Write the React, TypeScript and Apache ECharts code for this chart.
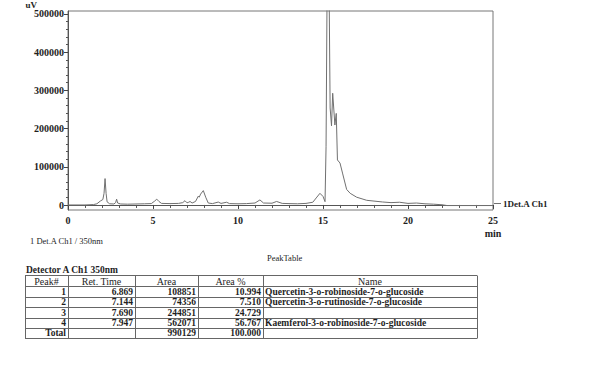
import React, { useEffect, useRef } from "react";
import * as echarts from "echarts";

// Chromatogram trace (retention time in min, signal in uV)
const times = [
  0, 1.0, 1.5, 1.7, 1.9, 2.05, 2.12, 2.18, 2.24, 2.3, 2.45, 2.7, 2.8, 2.86, 2.92, 3.1, 3.5, 4.0, 4.5, 4.9,
  5.1, 5.22, 5.35, 5.5, 6.0, 6.5, 6.75, 6.88, 7.0, 7.1, 7.18, 7.3, 7.5, 7.67, 7.72, 7.8, 7.96, 8.1, 8.25, 8.5,
  8.84, 9.0, 9.33, 9.5, 10.0, 10.5, 11.0, 11.29, 11.5, 12.0, 12.27, 12.6, 13.0, 13.5, 14.0, 14.4, 14.6, 14.82,
  15.0, 15.12, 15.18, 15.25, 15.35, 15.42, 15.5, 15.57, 15.7, 15.78, 15.85, 16.0, 16.16, 16.39, 16.6, 16.98,
  17.57, 18.5, 19.0, 19.5, 20.0, 20.5, 21.0, 21.5, 22.0, 22.3, 25.0,
];
const signal = [
  0, 0, 1000, 3000, 10000, 14000, 30000, 68000, 30000, 8000, 3000, 2500, 6000, 15000, 5000, 2500, 2000, 2500, 3000, 3500,
  10000, 15000, 9000, 4000, 3500, 4000, 6000, 11000, 5500, 7000, 9000, 5000, 9000, 23000, 20000, 28000, 37000, 20000, 5000, 3500,
  7500, 4000, 7000, 3500, 3000, 3500, 5000, 13000, 5000, 4500, 9000, 4000, 3500, 3000, 4000, 7000, 18000, 30000,
  22000, 8500, 150000, 620000, 600000, 250000, 204000, 288000, 206000, 236000, 116000, 108000, 80000, 40000, 30000, 20000,
  12000, 7700, 6000, 7000, 4000, 5000, 3000, 2000, 500, -1500, -1500,
];

const seriesName = "1Det.A Ch1";
const yLabelTicks = [0, 100000, 200000, 300000, 400000, 500000];

// Peak table
const tableHeaders = ["Peak#", "Ret. Time", "Area", "Area %", "Name"];
const peakNo = ["1", "2", "3", "4"];
const retTime = ["6.869", "7.144", "7.690", "7.947"];
const area = ["108851", "74356", "244851", "562071"];
const areaPct = ["10.994", "7.510", "24.729", "56.767"];
const peakName = [
  "Quercetin-3-o-robinoside-7-o-glucoside",
  "Quercetin-3-o-rutinoside-7-o-glucoside",
  "",
  "Kaemferol-3-o-robinoside-7-o-glucoside",
];
const totalRow = ["Total", "", "990129", "100.000", ""];

const FONT = "Liberation Serif";
const TEXT = "#1e1e1e";
const LINE = "#666";

function buildTable() {
  const colX = [25, 68, 135, 198, 263, 477];
  const rowY = [275, 286, 296.5, 307, 317.5, 327.5, 337.5];
  const els: any[] = [];
  rowY.forEach((y) => {
    els.push({
      type: "line",
      shape: { x1: colX[0], y1: Math.round(y) + 0.5, x2: colX[5], y2: Math.round(y) + 0.5 },
      style: { stroke: LINE, lineWidth: 1 },
    });
  });
  colX.forEach((x) => {
    els.push({
      type: "line",
      shape: { x1: x + 0.5, y1: Math.round(rowY[0]) + 0.5, x2: x + 0.5, y2: Math.round(rowY[6]) + 0.5 },
      style: { stroke: LINE, lineWidth: 1 },
    });
  });
  tableHeaders.forEach((h, i) => {
    els.push({
      type: "text",
      x: (colX[i] + colX[i + 1]) / 2,
      y: (rowY[0] + rowY[1]) / 2 + 0.5,
      style: { text: h, fontSize: 10, fontFamily: FONT, fill: TEXT, align: "center", verticalAlign: "middle" },
    });
  });
  const rows: string[][] = peakNo.map((p, r) => [p, retTime[r], area[r], areaPct[r], peakName[r]]);
  rows.push(totalRow);
  rows.forEach((row, r) => {
    const cy = (rowY[r + 1] + rowY[r + 2]) / 2 + 0.5;
    row.forEach((val, c) => {
      if (!val) return;
      const isName = c === 4;
      els.push({
        type: "text",
        x: isName ? colX[4] + 2 : colX[c + 1] - 2,
        y: cy,
        style: {
          text: val,
          fontSize: 9.5,
          fontWeight: "bold",
          fontFamily: FONT,
          fill: TEXT,
          align: isName ? "left" : "right",
          verticalAlign: "middle",
        },
      });
    });
  });
  return els;
}

export default function App() {
  const ref = useRef<HTMLDivElement>(null);
  useEffect(() => {
    if (!ref.current) return;
    const chart = echarts.init(ref.current, undefined, { renderer: "svg" });
    const data = times.map((t, i) => [t, signal[i]]);
    const labelStyle = { fontFamily: FONT, fontSize: 10, fontWeight: "bold" as const, color: TEXT };
    chart.setOption({
      animation: false,
      backgroundColor: "#fff",
      grid: [
        { left: 68, top: 11, width: 425, height: 199, show: true, borderColor: "#777", borderWidth: 1, backgroundColor: "transparent" },
        { left: 68, top: 11, width: 425, height: 194 },
      ],
      legend: {
        data: [seriesName],
        left: 494,
        top: 199,
        icon: "rect",
        itemWidth: 7,
        itemHeight: 1,
        selectedMode: false,
        padding: 0,
        textStyle: { fontFamily: FONT, fontSize: 9, fontWeight: "bold", color: TEXT, padding: [0, 0, 0, -3] },
      },
      xAxis: [
        {
          type: "value",
          gridIndex: 0,
          min: 0,
          max: 25,
          interval: 5,
          axisLine: { show: true, lineStyle: { color: "#555" } },
          axisTick: { show: true, length: 4, lineStyle: { color: "#444" } },
          minorTick: { show: true, splitNumber: 5, length: 3, lineStyle: { color: "#555" } },
          axisLabel: { ...labelStyle, margin: 5 },
          splitLine: { show: false },
        },
        { type: "value", gridIndex: 1, min: 0, max: 25, show: false },
      ],
      yAxis: [
        {
          type: "value",
          gridIndex: 0,
          min: -13000,
          max: 500000,
          axisLine: { show: true, lineStyle: { color: "#555" } },
          axisTick: { show: false },
          axisLabel: { show: false },
          splitLine: { show: false },
        },
        {
          type: "value",
          gridIndex: 1,
          min: yLabelTicks[0],
          max: yLabelTicks[yLabelTicks.length - 1],
          interval: yLabelTicks[1] - yLabelTicks[0],
          name: "uV",
          nameLocation: "end",
          nameGap: 0,
          nameTextStyle: { ...labelStyle, fontSize: 9, align: "right", verticalAlign: "middle", padding: [0, 31, 9, 0] },
          axisLine: { show: false },
          axisTick: { show: true, length: 4, lineStyle: { color: "#444" } },
          minorTick: { show: true, splitNumber: 5, length: 2, lineStyle: { color: "#555" } },
          axisLabel: { ...labelStyle, margin: 4, formatter: (v: number) => String(v) },
          splitLine: { show: false },
        },
      ],
      series: [
        {
          name: seriesName,
          type: "line",
          xAxisIndex: 0,
          yAxisIndex: 0,
          data,
          showSymbol: false,
          symbol: "none",
          clip: true,
          lineStyle: { color: "#707070", width: 1 },
          itemStyle: { color: "#707070" },
        },
      ],
      graphic: [
        {
          type: "text",
          x: 493,
          y: 228,
          style: { text: "min", fontSize: 10, fontWeight: "bold", fontFamily: FONT, fill: TEXT, align: "center", verticalAlign: "top" },
        },
        {
          type: "text",
          x: 30,
          y: 241,
          style: { text: "1 Det.A Ch1 / 350nm", fontSize: 8.5, fontFamily: FONT, fill: TEXT, verticalAlign: "middle" },
        },
        {
          type: "text",
          x: 267,
          y: 258,
          style: { text: "PeakTable", fontSize: 8.5, fontFamily: FONT, fill: TEXT, verticalAlign: "middle" },
        },
        {
          type: "text",
          x: 26,
          y: 269.5,
          style: { text: "Detector A Ch1 350nm", fontSize: 9.5, fontWeight: "bold", fontFamily: FONT, fill: TEXT, verticalAlign: "middle" },
        },
        ...buildTable(),
      ],
    });
    return () => chart.dispose();
  }, []);
  return <div ref={ref} style={{ position: "fixed", left: 0, top: 0, width: 600, height: 375, background: "#fff" }} />;
}
